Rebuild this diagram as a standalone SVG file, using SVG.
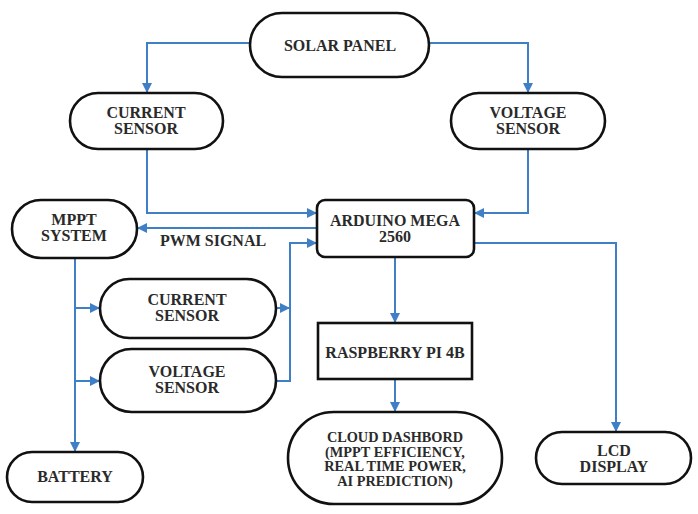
<svg xmlns="http://www.w3.org/2000/svg" width="698" height="514" viewBox="0 0 698 514">
<defs>
<style>
.n{fill:#fff;stroke:#111;stroke-width:2.6}
.t{font-family:'Liberation Serif','Times New Roman','DejaVu Serif',serif;font-weight:bold;font-size:16px;fill:#2a2a2a;text-anchor:middle}
.s{font-size:14.3px}
.c{fill:none;stroke:#3f7fc6;stroke-width:2}
</style>
<marker id="a" viewBox="0 0 10 10" refX="10" refY="5" markerWidth="10" markerHeight="10" markerUnits="userSpaceOnUse" orient="auto">
<path d="M0,0 L10,5 L0,10 z" fill="#3f7fc6"/>
</marker>
</defs>
<rect width="698" height="514" fill="#fff"/>
<g id="connectors">
<path class="c" d="M250,43 H147 V93" marker-end="url(#a)"/>
<path class="c" d="M429,43 H528 V93" marker-end="url(#a)"/>
<path class="c" d="M147,149 V213 H317" marker-end="url(#a)"/>
<path class="c" d="M528,149 V213 H474" marker-end="url(#a)"/>
<path class="c" d="M317,228 H137" marker-end="url(#a)"/>
<path class="c" d="M75,258 V452" marker-end="url(#a)"/>
<path class="c" d="M75,308 H100" marker-end="url(#a)"/>
<path class="c" d="M75,381 H100" marker-end="url(#a)"/>
<path class="c" d="M276,308 H290" marker-end="url(#a)"/>
<path class="c" d="M276,381 H290 V243 H317" marker-end="url(#a)"/>
<path class="c" d="M395,257 V323" marker-end="url(#a)"/>
<path class="c" d="M395,379 V412" marker-end="url(#a)"/>
<path class="c" d="M474,243 H616 V432" marker-end="url(#a)"/>
<text class="t" x="213" y="246">PWM SIGNAL</text>
</g>
<g id="solar-panel"><rect class="n" x="250" y="13" width="179" height="64" rx="32"/><text class="t" x="340" y="50.5">SOLAR PANEL</text></g>
<g id="current-sensor-1"><rect class="n" x="70" y="93" width="153" height="56" rx="28"/><text class="t" x="146" y="118">CURRENT</text><text class="t" x="146" y="134">SENSOR</text></g>
<g id="voltage-sensor-1"><rect class="n" x="451" y="93" width="154" height="56" rx="28"/><text class="t" x="528" y="118">VOLTAGE</text><text class="t" x="528" y="134">SENSOR</text></g>
<g id="arduino"><rect class="n" x="317" y="200" width="157" height="57" rx="8"/><text class="t" x="395" y="226">ARDUINO MEGA</text><text class="t" x="395" y="242">2560</text></g>
<g id="mppt"><rect class="n" x="12" y="200" width="125" height="58" rx="29"/><text class="t" x="74" y="225">MPPT</text><text class="t" x="74" y="241">SYSTEM</text></g>
<g id="current-sensor-2"><rect class="n" x="100" y="279" width="176" height="59" rx="29.5"/><text class="t" x="187" y="305">CURRENT</text><text class="t" x="187" y="321">SENSOR</text></g>
<g id="voltage-sensor-2"><rect class="n" x="100" y="349" width="176" height="63" rx="31.5"/><text class="t" x="187" y="377">VOLTAGE</text><text class="t" x="187" y="393">SENSOR</text></g>
<g id="raspberry-pi"><rect class="n" x="318" y="323" width="154" height="56" rx="0"/><text class="t" x="395" y="357.5">RASPBERRY PI 4B</text></g>
<g id="cloud-dashboard"><rect class="n" x="288" y="412" width="214" height="92" rx="46"/><text class="t s" x="395" y="442">CLOUD DASHBORD</text><text class="t s" x="395" y="456.5">(MPPT EFFICIENCY,</text><text class="t s" x="395" y="471">REAL TIME POWER,</text><text class="t s" x="395" y="485.5">AI PREDICTION)</text></g>
<g id="battery"><rect class="n" x="7" y="452" width="136" height="50" rx="25"/><text class="t" x="75" y="482">BATTERY</text></g>
<g id="lcd"><rect class="n" x="536" y="432" width="155" height="52" rx="26"/><text class="t" x="614" y="456">LCD</text><text class="t" x="614" y="472">DISPLAY</text></g>
</svg>
